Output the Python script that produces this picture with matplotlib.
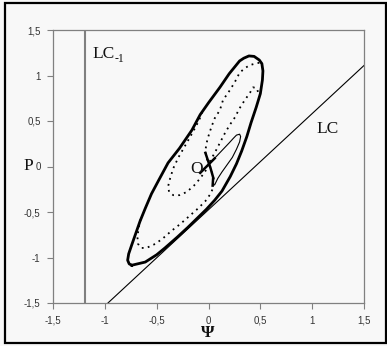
import numpy as np
import matplotlib
matplotlib.use("Agg")
import matplotlib.pyplot as plt
from matplotlib.ticker import MultipleLocator, FuncFormatter
from matplotlib.patches import Rectangle

# outer separatrix loop (thick)
loop_psi = [-0.74, -0.61, -0.50, -0.42, -0.30, -0.20, -0.11, -0.02, 0.06, 0.13, 0.21, 0.27,
            0.32, 0.37, 0.41, 0.46, 0.50, 0.52, 0.525, 0.515, 0.49, 0.44, 0.39, 0.34, 0.30,
            0.20, 0.11, 0.0, -0.08, -0.16, -0.28, -0.39, -0.48, -0.55, -0.61, -0.66, -0.70,
            -0.74, -0.77, -0.78, -0.765, -0.74]
loop_p = [-1.085, -1.05, -0.97, -0.895, -0.775, -0.67, -0.57, -0.47, -0.37, -0.27, -0.11, 0.03,
          0.17, 0.33, 0.48, 0.65, 0.80, 0.95, 1.05, 1.13, 1.17, 1.21, 1.215, 1.19, 1.16,
          1.02, 0.87, 0.70, 0.57, 0.40, 0.20, 0.04, -0.15, -0.30, -0.46, -0.60, -0.73,
          -0.86, -0.96, -1.03, -1.07, -1.085]

# dotted trajectory from the top corner down the middle to O
mid_psi = [0.49, 0.45, 0.40, 0.35, 0.30, 0.255, 0.207, 0.14, 0.11, 0.06, 0.035, 0.012, -0.012, -0.03, -0.02, 0.0]
mid_p = [1.14, 1.13, 1.115, 1.08, 1.03, 0.93, 0.84, 0.73, 0.62, 0.53, 0.455, 0.38, 0.29, 0.18, 0.10, 0.03]

# dotted trajectory on the right, from the hook to O
right_psi = [0.477, 0.467, 0.43, 0.40, 0.35, 0.30, 0.255, 0.207, 0.16, 0.11, 0.06, 0.01]
right_p = [0.82, 0.86, 0.87, 0.81, 0.73, 0.64, 0.54, 0.46, 0.37, 0.26, 0.15, 0.05]

# dotted trajectory along the bottom, into O from below
low_psi = [-0.655, -0.675, -0.685, -0.68, -0.65, -0.60, -0.53, -0.45, -0.36, -0.27, -0.18, -0.10,
           -0.03, 0.02, 0.05, 0.05, 0.03, 0.01]
low_p = [-0.58, -0.68, -0.78, -0.85, -0.895, -0.895, -0.86, -0.80, -0.71, -0.63, -0.54, -0.46,
         -0.38, -0.30, -0.22, -0.13, -0.05, 0.02]

# dotted lower-left petal
petal_psi = [-0.06, -0.09, -0.15, -0.22, -0.29, -0.34, -0.37, -0.39, -0.38, -0.34, -0.28, -0.21,
             -0.14, -0.08, -0.03, 0.0]
petal_p = [0.60, 0.51, 0.38, 0.24, 0.10, -0.02, -0.13, -0.22, -0.28, -0.315, -0.315, -0.28,
           -0.21, -0.13, -0.05, 0.02]

# thin upper-right petal
up_psi = [0.0, 0.05, 0.10, 0.15, 0.20, 0.24, 0.27, 0.30, 0.31, 0.30, 0.27, 0.23, 0.18, 0.13, 0.09, 0.06]
up_p = [0.02, 0.08, 0.14, 0.20, 0.26, 0.31, 0.345, 0.355, 0.33, 0.27, 0.19, 0.10, 0.02, -0.06, -0.13, -0.20]

# thick cross at O
x1_psi = [-0.03, 0.02, 0.045, 0.04]
x1_p = [0.15, -0.02, -0.12, -0.21]
x2_psi = [-0.08, 0.06]
x2_p = [-0.07, 0.09]

# LC and LC-1 lines
lc_psi = [-0.97, 1.5]
lc_p = [-1.5, 1.11]
lcm1_psi = -1.19

bg = '#f8f8f8'
fig = plt.figure(figsize=(3.87, 3.46), dpi=100, facecolor=bg)
ax = fig.add_axes([53/387, 43/346, 311/387, 273/346], facecolor=bg)

dots = dict(color='black', lw=1.3, linestyle=(0, (1, 2.4)))
ax.plot(lc_psi, lc_p, color='black', lw=0.8)
ax.axvline(lcm1_psi, color='#808080', lw=1.5)
ax.plot(mid_psi, mid_p, **dots)
ax.plot(right_psi, right_p, **dots)
ax.plot(low_psi, low_p, **dots)
ax.plot(petal_psi, petal_p, **dots)
ax.plot(up_psi, up_p, color='black', lw=0.8)
ax.plot(loop_psi, loop_p, color='black', lw=2.0, solid_joinstyle='round')
ax.plot(x1_psi, x1_p, color='black', lw=1.8)
ax.plot(x2_psi, x2_p, color='black', lw=1.8)

ax.set_xlim(-1.5, 1.5)
ax.set_ylim(-1.5, 1.5)
ax.xaxis.set_major_locator(MultipleLocator(0.5))
ax.yaxis.set_major_locator(MultipleLocator(0.5))
fmt = FuncFormatter(lambda v, pos: f'{v:g}'.replace('.', ','))
ax.xaxis.set_major_formatter(fmt)
ax.yaxis.set_major_formatter(fmt)
ax.tick_params(direction='out', length=4, width=0.8, color='#808080',
               labelsize=7, labelcolor='#333333', pad=5)
for lab in ax.get_xticklabels() + ax.get_yticklabels():
    lab.set_fontfamily('Liberation Sans')
for s in ax.spines.values():
    s.set_color('#808080')
    s.set_linewidth(0.9)

serif = dict(family='Liberation Serif', fontsize=12.5, color='#111111')
ax.text(-1.124, 1.19, 'LC', **serif)
ax.annotate('-1', xy=(-1.124, 1.19), xytext=(16.5, -3), textcoords='offset points',
            family='Liberation Serif', fontsize=8.5, color='#111111')
ax.text(1.046, 0.37, 'LC', **serif)
ax.text(-0.18, -0.07, 'O', **serif)
fig.text(23/387, 0.509, 'P', **serif)
fig.text(0.536, 0.026, 'Ψ', ha='center', family='Liberation Serif', fontsize=12.5,
         fontweight='bold', color='#111111')

fig.patches.append(Rectangle((5/387, 3/346), 381/387, 340/346, transform=fig.transFigure,
                             fill=False, edgecolor='black', lw=1.6))

fig.savefig('out.png', dpi=100, facecolor=bg)
